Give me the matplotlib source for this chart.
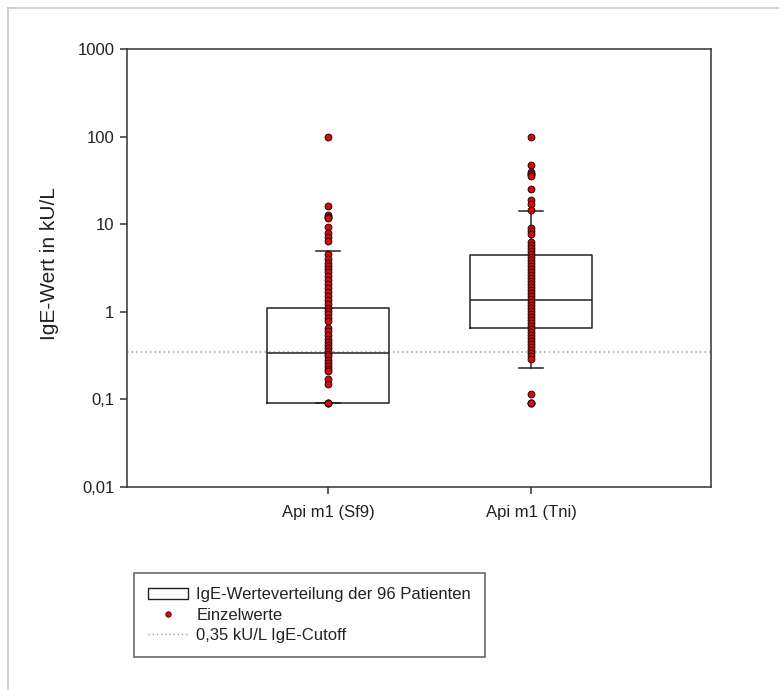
import matplotlib
matplotlib.use("Agg")
import matplotlib.pyplot as plt
from matplotlib.lines import Line2D
from matplotlib.patches import Rectangle
import numpy as np

plt.rcParams['font.family'] = ['Liberation Sans', 'DejaVu Sans']

# IgE values per allergen variant (kU/L)
groups = ["Api m1 (Sf9)", "Api m1 (Tni)"]

sf9_values = [100, 16.2, 12.7, 12.2, 12.2, 11.9, 9.2, 8.0, 7.2, 6.4, 4.6,
              4.03, 3.63, 3.35, 3.10, 2.86, 2.58, 2.32, 2.09, 1.88, 1.69,
              1.52, 1.37, 1.23, 1.11, 1.03, 0.95, 0.855, 0.79, 0.66, 0.61,
              0.55, 0.49, 0.45, 0.42, 0.39, 0.36, 0.33, 0.31, 0.28, 0.26,
              0.24, 0.22, 0.21, 0.17, 0.15, 0.09, 0.09, 0.09]
tni_values = [100, 47.6, 39.7, 37.6, 37.6, 35.7, 25.4, 19.0, 16.9, 14.6,
              9.1, 8.4, 7.8, 6.3, 5.8, 5.4, 5.0, 4.6, 4.2, 3.9, 3.6, 3.35,
              3.1, 2.86, 2.64, 2.44, 2.26, 2.09, 1.93, 1.78, 1.65, 1.52,
              1.41, 1.30, 1.20, 1.11, 1.03, 0.95, 0.88, 0.81, 0.75, 0.69,
              0.64, 0.59, 0.55, 0.50, 0.47, 0.43, 0.40, 0.37, 0.34, 0.31,
              0.29, 0.116, 0.09, 0.09, 0.09]

# box statistics
q1 = [0.09, 0.66]
median = [0.34, 1.37]
q3 = [1.11, 4.5]
whisker_low = [0.09, 0.23]
whisker_high = [4.97, 14.2]

cutoff = 0.35

ytick_vals = [0.01, 0.1, 1, 10, 100, 1000]
ytick_labels = ["0,01", "0,1", "1", "10", "100", "1000"]

fig = plt.figure(figsize=(7.79, 6.90), dpi=100)
ax = fig.add_axes([127 / 779, 1 - 487 / 690, 584 / 779, 438 / 690])

positions = [1, 2]
stats = []
for i in range(len(groups)):
    stats.append({'med': median[i], 'q1': q1[i], 'q3': q3[i],
                  'whislo': whisker_low[i], 'whishi': whisker_high[i],
                  'fliers': []})

edge = '#222222'
ax.bxp(stats, positions=positions, widths=0.6, showfliers=False,
       capwidths=0.12,
       boxprops=dict(color=edge, linewidth=1.1),
       medianprops=dict(color=edge, linewidth=1.1),
       whiskerprops=dict(color=edge, linewidth=1.1),
       capprops=dict(color=edge, linewidth=1.1))

ax.axhline(cutoff, color='#9a9a9a', linestyle=(0, (1, 2)), linewidth=1.1,
           zorder=1)

for pos, vals in zip(positions, [sf9_values, tni_values]):
    ax.plot([pos] * len(vals), vals, 'o', markerfacecolor='#ee0000',
            markeredgecolor='#111111', markeredgewidth=0.7, markersize=4.9,
            linestyle='none', zorder=5)

ax.set_yscale('log')
ax.set_ylim(0.01, 1000)
ax.set_yticks(ytick_vals)
ax.set_yticklabels(ytick_labels)
ax.minorticks_off()
ax.set_xlim(0.01, 2.887)
ax.set_xticks(positions)
ax.set_xticklabels(groups)

for sp in ax.spines.values():
    sp.set_color('#333333')
    sp.set_linewidth(1.1)
ax.tick_params(axis='both', direction='out', length=5, width=1.1,
               color='#333333', labelsize=12, labelcolor='#222222', pad=4)
ax.tick_params(axis='x', pad=8, labelsize=12)
ax.set_ylabel("IgE-Wert in kU/L", fontsize=15, color='#222222')
ax.yaxis.set_label_coords(-0.117, 0.51)

# legend
handles = [Rectangle((0, 0), 1, 1, facecolor='white', edgecolor=edge,
                     linewidth=1.0),
           Line2D([], [], marker='o', linestyle='none',
                  markerfacecolor='#ee0000', markeredgecolor='#111111',
                  markeredgewidth=0.5, markersize=4),
           Line2D([], [], color='#9a9a9a', linestyle=(0, (1, 2)),
                  linewidth=1.0)]
labels = ["IgE-Werteverteilung der 96 Patienten", "Einzelwerte",
          "0,35 kU/L IgE-Cutoff"]
leg = fig.legend(handles, labels, loc='upper left',
                 bbox_to_anchor=(134 / 779, 1 - 573 / 690),
                 fontsize=12, frameon=True, fancybox=False,
                 handlelength=2.4, handletextpad=0.5, labelspacing=0.32,
                 borderpad=0.85, borderaxespad=0)
leg.get_frame().set_edgecolor('#333333')
leg.get_frame().set_linewidth(1.1)
for t in leg.get_texts():
    t.set_color('#222222')

# outer frame
fig.add_artist(Line2D([8 / 779, 1], [1 - 8 / 690, 1 - 8 / 690],
                      color='#c8c8c8', linewidth=1.2))
fig.add_artist(Line2D([8 / 779, 8 / 779], [0, 1 - 8 / 690],
                      color='#c8c8c8', linewidth=1.2))

fig.savefig("out.png", dpi=100, facecolor='white')
